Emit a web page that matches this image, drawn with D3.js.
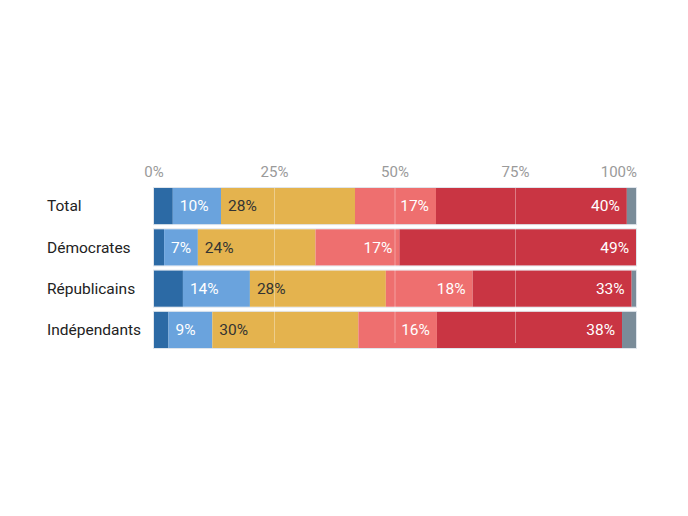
<!DOCTYPE html>
<html>
<head>
<meta charset="utf-8">
<script src="https://cdn.jsdelivr.net/npm/d3@7"></script>
<style>
  body { margin: 0; background: #fff; }
  svg { font-family: Roboto, "Noto Sans", sans-serif; }
</style>
</head>
<body>
<div id="chart"></div>
<script>
// DATA
const groups = ["Total", "Démocrates", "Républicains", "Indépendants"];
const seriesKeys = ["s1", "s2", "s3", "s4", "s5", "s6"];
const s1 = [3.9, 2.1, 6.0, 3.0];
const s2 = [10.0, 7.0, 13.9, 9.1];
const s3 = [27.8, 24.4, 28.2, 30.3];
const s4 = [16.8, 17.4, 18.0, 16.3];
const s5 = [39.6, 49.1, 33.0, 38.4];
const s6 = [1.9, 0.0, 0.9, 2.9];
const tickValues = [0, 25, 50, 75, 100];

const colors = ["#2c6aa5", "#6aa3dd", "#e4b34e", "#ee6f6f", "#c93543", "#7a8c99"];
// label: which segments get a value label, and where
const labelShow = [false, true, true, true, true, false];
const labelAlign = ["start", "start", "start", "end", "end", "end"];
const labelColor = ["#fff", "#fff", "#333", "#fff", "#fff", "#fff"];

const dataSet = groups.map((g, i) => ({
  group: g, s1: s1[i], s2: s2[i], s3: s3[i], s4: s4[i], s5: s5[i], s6: s6[i]
}));

// MARGIN, WIDTH, HEIGHT
const svgWidth = 688, svgHeight = 516;
const margin = { top: 188, left: 154 };
const width = 482;
const rowStep = 40;

const stack = d3.stack().keys(seriesKeys);
const layeredData = stack(dataSet);

const xScale = d3.scaleLinear().domain([0, 100]).range([0, width]);
const yScale = d3.scaleBand().domain(groups).range([0, rowStep * groups.length]).paddingInner(5 / 40).paddingOuter(0);

const svg = d3.select("#chart").append("svg")
  .attr("width", svgWidth).attr("height", svgHeight);

const g = svg.append("g").attr("transform", `translate(${margin.left},${margin.top})`);

// AXIS LABELS (top)
g.append("g").selectAll("text")
  .data(tickValues)
  .enter().append("text")
  .attr("x", d => xScale(d) + (d === 100 ? 1 : 0))
  .attr("y", -11)
  .attr("text-anchor", d => d === 100 ? "end" : "middle")
  .attr("fill", "#9a9a9a")
  .style("font-size", "15px")
  .text(d => d + "%");

// ROW LABELS
g.append("g").selectAll("text")
  .data(groups)
  .enter().append("text")
  .attr("x", 47 - margin.left)
  .attr("y", d => yScale(d) + yScale.bandwidth() / 2)
  .attr("dy", "0.35em")
  .attr("fill", "#222")
  .style("font-size", "15.5px")
  .text(d => d);

// BAR OUTLINE
g.append("g").selectAll("rect")
  .data(groups)
  .enter().append("rect")
  .attr("x", -0.5)
  .attr("y", d => yScale(d) - 0.5)
  .attr("width", width + 1)
  .attr("height", yScale.bandwidth() + 1)
  .attr("fill", "none")
  .attr("stroke", "#dfe5ec");

// SEGMENTS
const layers = g.selectAll(".layer")
  .data(layeredData)
  .enter().append("g")
  .attr("class", "layer")
  .attr("fill", (d, i) => colors[i]);

layers.selectAll("rect")
  .data(d => d)
  .enter().append("rect")
  .attr("x", d => xScale(d[0]))
  .attr("y", d => yScale(d.data.group))
  .attr("width", d => xScale(d[1]) - xScale(d[0]))
  .attr("height", yScale.bandwidth());

// GRID LINES over bars
g.append("g").selectAll("line")
  .data([25, 50, 75])
  .enter().append("line")
  .attr("x1", d => xScale(d)).attr("x2", d => xScale(d))
  .attr("y1", 0).attr("y2", rowStep * groups.length - 5)
  .attr("stroke", "rgba(255,255,255,0.35)")
  .attr("stroke-width", 1);

// VALUE LABELS
layeredData.forEach((layer, li) => {
  if (!labelShow[li]) return;
  g.append("g").selectAll("text")
    .data(layer)
    .enter().append("text")
    .attr("x", d => labelAlign[li] === "start" ? xScale(d[0]) + 7 : xScale(d[1]) - 7)
    .attr("y", d => yScale(d.data.group) + yScale.bandwidth() / 2)
    .attr("dy", "0.35em")
    .attr("text-anchor", labelAlign[li])
    .attr("fill", labelColor[li])
    .style("font-size", "15.5px")
    .text(d => Math.round(d[1] - d[0]) + "%");
});
</script>
</body>
</html>
